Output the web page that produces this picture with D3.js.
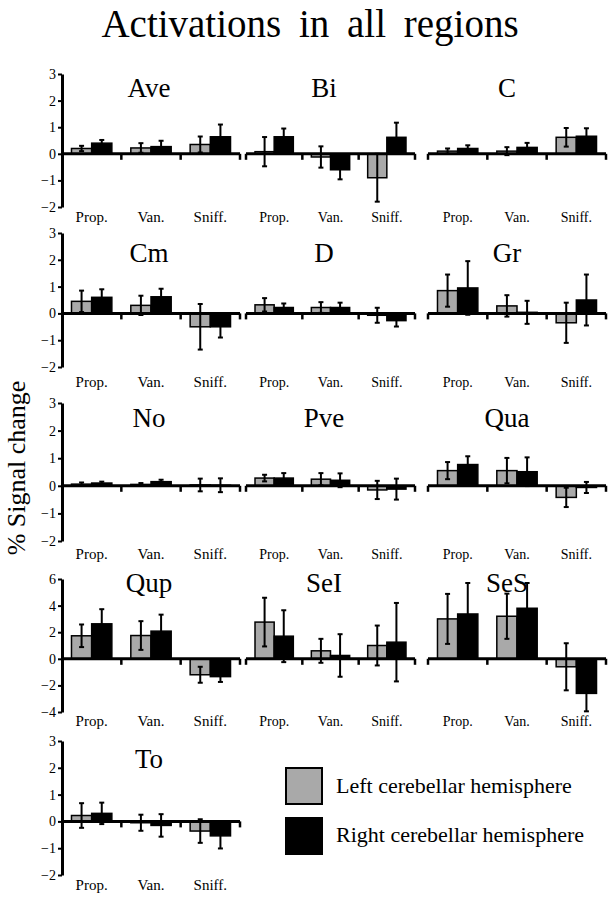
<!DOCTYPE html>
<html>
<head>
<meta charset="utf-8">
<script src="https://cdn.jsdelivr.net/npm/d3@7"></script>
<style>
  body { margin: 0; background: #fff; }
</style>
</head>
<body>
<div id="chart"></div>
<script>
// data
const mainTitle = 'Activations in all regions';
const yLabel = '% Signal change';
const regions = ['Ave', 'Bi', 'C', 'Cm', 'D', 'Gr', 'No', 'Pve', 'Qua', 'Qup', 'SeI', 'SeS', 'To'];
const conditions = ['Prop.', 'Van.', 'Sniff.'];
const legendLabels = ['Left cerebellar hemisphere', 'Right cerebellar hemisphere'];

// left hemisphere (grey) mean and error, one row per region
const leftMean = [
  [0.2, 0.22, 0.35], [0.08, -0.12, -0.9], [0.1, 0.1, 0.62],
  [0.45, 0.3, -0.5], [0.32, 0.22, -0.07], [0.85, 0.28, -0.35],
  [0.06, 0.05, 0.03], [0.28, 0.24, -0.15], [0.55, 0.55, -0.42],
  [1.73, 1.75, -1.2], [2.76, 0.6, 1.0], [3.0, 3.2, -0.6],
  [0.22, -0.05, -0.36]
];
const leftErr = [
  [0.1, 0.18, 0.3], [0.55, 0.4, 0.9], [0.1, 0.15, 0.35],
  [0.4, 0.36, 0.85], [0.25, 0.2, 0.28], [0.6, 0.4, 0.75],
  [0.06, 0.05, 0.23], [0.12, 0.22, 0.33], [0.31, 0.46, 0.35],
  [0.85, 1.08, 0.6], [1.83, 0.9, 1.5], [1.88, 1.7, 1.77],
  [0.46, 0.3, 0.44]
];
// right hemisphere (black)
const rightMean = [
  [0.4, 0.27, 0.64], [0.64, -0.6, 0.62], [0.2, 0.24, 0.66],
  [0.6, 0.62, -0.5], [0.22, 0.22, -0.27], [0.95, 0.04, 0.5],
  [0.1, 0.15, 0.02], [0.28, 0.2, -0.12], [0.77, 0.51, -0.06],
  [2.63, 2.08, -1.34], [1.7, 0.25, 1.25], [3.37, 3.8, -2.6],
  [0.3, -0.15, -0.54]
];
const rightErr = [
  [0.12, 0.22, 0.46], [0.31, 0.36, 0.55], [0.12, 0.17, 0.3],
  [0.3, 0.3, 0.4], [0.15, 0.18, 0.22], [1.0, 0.43, 0.95],
  [0.05, 0.07, 0.25], [0.18, 0.25, 0.38], [0.3, 0.52, 0.2],
  [1.1, 1.24, 0.4], [1.95, 1.6, 2.95], [2.33, 1.9, 1.35],
  [0.4, 0.42, 0.47]
];

// y scale per row of panels
const rowDomains = [[-2, 3], [-2, 3], [-2, 3], [-4, 6], [-2, 3]];
const rowTicks = [
  [-2, -1, 0, 1, 2, 3], [-2, -1, 0, 1, 2, 3], [-2, -1, 0, 1, 2, 3],
  [-4, -2, 0, 2, 4, 6], [-2, -1, 0, 1, 2, 3]
];

// layout
const width = 616;
const height = 900;
const serif = 'Liberation Serif';
const colX = [[62, 240], [246, 415], [428, 606]];
const colTitleX = [149, 324, 507];
const rowTop = [74, 233, 403, 579, 741];
const rowBottom = [207, 367, 541, 712, 875];
const titleY = [97, 262, 427, 592, 768];
const labelY = [222, 387, 559, 726, 890];
const grey = '#a9a9a9';

const svg = d3.select('#chart')
              .append('svg')
              .attr('width', width)
              .attr('height', height);

svg.append('text')
   .attr('x', 310)
   .attr('y', 37)
   .attr('text-anchor', 'middle')
   .style('font-family', serif)
   .style('font-size', '39px')
   .style('word-spacing', '8px')
   .text(mainTitle);

svg.append('text')
   .attr('transform', 'translate(25,468) rotate(-90)')
   .attr('text-anchor', 'middle')
   .style('font-family', serif)
   .style('font-size', '26px')
   .text(yLabel);

regions.forEach((name, i) => {
  const row = Math.floor(i / 3);
  const col = i % 3;

  const y = d3.scaleLinear()
              .domain(rowDomains[row])
              .range([rowBottom[row], rowTop[row]]);
  const x = d3.scaleBand()
              .domain(conditions)
              .range(colX[col]);
  const side = d3.scaleBand()
                 .domain(['L', 'R'])
                 .range([0, x.bandwidth()])
                 .paddingOuter(0.47);

  const data = [];
  conditions.forEach((c, j) => {
    data.push({c: c, s: 'L', v: leftMean[i][j], e: leftErr[i][j]});
    data.push({c: c, s: 'R', v: rightMean[i][j], e: rightErr[i][j]});
  });

  const g = svg.append('g').attr('class', 'panel');

  // bars
  g.selectAll('rect.bar')
   .data(data)
   .enter()
   .append('rect')
   .attr('class', 'bar')
   .attr('x', (d) => x(d.c) + side(d.s))
   .attr('y', (d) => y(Math.max(0, d.v)))
   .attr('width', side.bandwidth())
   .attr('height', (d) => Math.abs(y(d.v) - y(0)))
   .style('fill', (d) => d.s === 'L' ? grey : '#000')
   .style('stroke', '#000')
   .style('stroke-width', 1.5);

  // error bars
  const cx = (d) => x(d.c) + side(d.s) + side.bandwidth() / 2;
  g.selectAll('line.err')
   .data(data)
   .enter()
   .append('line')
   .attr('class', 'err')
   .attr('x1', cx).attr('x2', cx)
   .attr('y1', (d) => y(d.v - d.e))
   .attr('y2', (d) => y(d.v + d.e))
   .style('stroke', '#000')
   .style('stroke-width', 2);
  const caps = [];
  data.forEach((d) => {
    caps.push({d: d, v: d.v + d.e});
    caps.push({d: d, v: d.v - d.e});
  });
  g.selectAll('line.cap')
   .data(caps)
   .enter()
   .append('line')
   .attr('class', 'cap')
   .attr('x1', (k) => cx(k.d) - 2.5)
   .attr('x2', (k) => cx(k.d) + 2.5)
   .attr('y1', (k) => y(k.v))
   .attr('y2', (k) => y(k.v))
   .style('stroke', '#000')
   .style('stroke-width', 2);

  // x axis at zero
  g.append('line')
   .attr('x1', colX[col][0])
   .attr('x2', colX[col][1])
   .attr('y1', y(0))
   .attr('y2', y(0))
   .style('stroke', '#000')
   .style('stroke-width', 3);
  const bounds = conditions.map((c) => x(c) + x.bandwidth());
  if (col > 0) {
    bounds.unshift(x(conditions[0]));
  }
  g.selectAll('line.xtick')
   .data(bounds)
   .enter()
   .append('line')
   .attr('class', 'xtick')
   .attr('x1', (d) => d).attr('x2', (d) => d)
   .attr('y1', y(0))
   .attr('y2', y(0) + 6)
   .style('stroke', '#000')
   .style('stroke-width', 2.5);

  // y axis only in first column
  if (col === 0) {
    const yAxis = d3.axisLeft(y)
                    .tickValues(rowTicks[row])
                    .tickFormat(d3.format('d'))
                    .tickSize(4)
                    .tickSizeOuter(0)
                    .tickPadding(2);
    const ya = g.append('g')
                .attr('transform', `translate(${colX[0][0]}, 0)`)
                .call(yAxis);
    ya.select('.domain').style('stroke-width', 3);
    ya.selectAll('.tick line').style('stroke-width', 2);
    ya.selectAll('.tick text')
      .style('font-family', serif)
      .style('font-size', '14px')
      .style('fill', '#000');
  }

  // condition labels
  g.selectAll('text.cond')
   .data(conditions)
   .enter()
   .append('text')
   .attr('class', 'cond')
   .attr('x', (c) => x(c) + x.bandwidth() / 2)
   .attr('y', labelY[row])
   .attr('text-anchor', 'middle')
   .style('font-family', serif)
   .style('font-size', col === 0 ? '15px' : '14px')
   .text((c) => c);

  // region name
  g.append('text')
   .attr('x', colTitleX[col])
   .attr('y', titleY[row])
   .attr('text-anchor', 'middle')
   .style('font-family', serif)
   .style('font-size', '27px')
   .text(name);
});

// legend
const legend = svg.append('g').attr('class', 'legend');
legend.selectAll('rect')
      .data(legendLabels)
      .enter()
      .append('rect')
      .attr('x', 286)
      .attr('y', (d, i) => 768 + i * 50)
      .attr('width', 36)
      .attr('height', 36)
      .style('fill', (d, i) => i === 0 ? grey : '#000')
      .style('stroke', '#000')
      .style('stroke-width', 2);
legend.selectAll('text')
      .data(legendLabels)
      .enter()
      .append('text')
      .attr('x', 336)
      .attr('y', (d, i) => 793 + i * 49)
      .style('font-family', serif)
      .style('font-size', '22px')
      .text((d) => d);
</script>
</body>
</html>
